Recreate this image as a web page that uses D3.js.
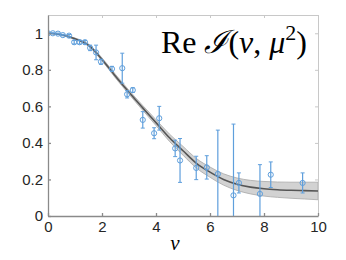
<!DOCTYPE html>
<meta charset="utf-8">
<script src="https://d3js.org/d3.v7.min.js"></script>
<style>
  body { margin: 0; background: #fff; }
  text { font-family: "Liberation Sans", Arial, sans-serif; }
</style>
<div id="my_dataviz"></div>
<script>

// data points (nu, value, error)
var nu   = [0, 0.18, 0.37, 0.55, 0.78, 0.97, 1.17, 1.37, 1.56, 1.78, 1.96, 2.37, 2.75, 2.93, 3.14, 3.51, 3.93, 4.12, 4.71, 4.89, 5.49, 5.88, 6.29, 6.87, 7.07, 7.85, 8.25, 9.43];
var vals = [1.0, 1.0, 0.998, 0.99, 0.987, 0.951, 0.951, 0.951, 0.92, 0.895, 0.844, 0.805, 0.809, 0.666, 0.689, 0.526, 0.453, 0.535, 0.37, 0.304, 0.263, 0.266, 0.23, 0.113, 0.181, 0.121, 0.226, 0.181];
var errs = [0.003, 0.003, 0.003, 0.004, 0.006, 0.01, 0.01, 0.01, 0.015, 0.04, 0.014, 0.014, 0.082, 0.02, 0.013, 0.045, 0.03, 0.065, 0.045, 0.12, 0.064, 0.064, 0.24, 0.39, 0.055, 0.16, 0.07, 0.055];

// fit curve and band
var curveNu  = [0, 0.5, 1, 1.5, 2, 2.5, 3, 3.5, 4, 4.5, 5, 5.5, 6, 6.5, 7, 7.5, 8, 8.5, 9, 9.5, 10];
var curveVal = [1.0, 0.992, 0.97, 0.935, 0.857, 0.765, 0.677, 0.593, 0.511, 0.428, 0.357, 0.288, 0.24, 0.2, 0.174, 0.158, 0.149, 0.144, 0.141, 0.139, 0.137];
var bandHalf = [0, 0.002, 0.004, 0.006, 0.008, 0.01, 0.011, 0.013, 0.016, 0.02, 0.024, 0.026, 0.028, 0.031, 0.034, 0.037, 0.04, 0.042, 0.044, 0.046, 0.048];

var xTicks = [0, 2, 4, 6, 8, 10];
var yTicks = [0, 0.2, 0.4, 0.6, 0.8, 1];

var margin = {top: 15, right: 28, bottom: 44, left: 48},
    width = 346 - margin.left - margin.right,
    height = 260 - margin.top - margin.bottom;

var svg = d3.select("#my_dataviz")
  .append("svg")
    .attr("width", 346)
    .attr("height", 260)
  .append("g")
    .attr("transform", "translate(" + margin.left + "," + margin.top + ")");

var x = d3.scaleLinear().domain([0, 10]).range([0, width]);
var y = d3.scaleLinear().domain([0, 1.1]).range([height, 0]);

svg.append("clipPath").attr("id", "clip")
  .append("rect").attr("width", width).attr("height", height);

var plot = svg.append("g").attr("clip-path", "url(#clip)");

// band
var band = curveNu.map(function(d, i) { return {nu: d, lo: curveVal[i] - bandHalf[i], hi: curveVal[i] + bandHalf[i], v: curveVal[i]}; });
plot.append("path")
  .datum(band)
  .attr("fill", "#d2d2d2")
  .attr("stroke", "#a8a8a8")
  .attr("stroke-width", 0.8)
  .attr("d", d3.area()
    .curve(d3.curveMonotoneX)
    .x(function(d) { return x(d.nu); })
    .y0(function(d) { return y(d.lo); })
    .y1(function(d) { return y(d.hi); }));

plot.append("path")
  .datum(band)
  .attr("fill", "none")
  .attr("stroke", "#555")
  .attr("stroke-width", 1.6)
  .attr("d", d3.line()
    .curve(d3.curveMonotoneX)
    .x(function(d) { return x(d.nu); })
    .y(function(d) { return y(d.v); }));

// error bars
var pts = nu.map(function(d, i) { return {nu: d, v: vals[i], e: errs[i]}; });
var blue = "#5f9fdc";
var eb = plot.selectAll(".eb").data(pts).enter().append("g");
eb.append("line")
  .attr("x1", function(d) { return x(d.nu); })
  .attr("x2", function(d) { return x(d.nu); })
  .attr("y1", function(d) { return y(d.v - d.e); })
  .attr("y2", function(d) { return y(d.v + d.e); })
  .attr("stroke", blue).attr("stroke-width", 1.2);
eb.append("line")
  .attr("x1", function(d) { return x(d.nu) - 2; })
  .attr("x2", function(d) { return x(d.nu) + 2; })
  .attr("y1", function(d) { return y(d.v + d.e); })
  .attr("y2", function(d) { return y(d.v + d.e); })
  .attr("stroke", blue).attr("stroke-width", 1);
eb.append("line")
  .attr("x1", function(d) { return x(d.nu) - 2; })
  .attr("x2", function(d) { return x(d.nu) + 2; })
  .attr("y1", function(d) { return y(d.v - d.e); })
  .attr("y2", function(d) { return y(d.v - d.e); })
  .attr("stroke", blue).attr("stroke-width", 1);
eb.append("circle")
  .attr("cx", function(d) { return x(d.nu); })
  .attr("cy", function(d) { return y(d.v); })
  .attr("r", 2.6)
  .attr("fill", "none")
  .attr("stroke", blue).attr("stroke-width", 1);

// box (top and right)
svg.append("g")
  .call(d3.axisTop(x).tickValues(xTicks).tickSizeInner(-3).tickSizeOuter(0).tickFormat(""))
  .call(function(g) { g.selectAll("line,path").attr("stroke", "#c8c8c8"); });
svg.append("g")
  .attr("transform", "translate(" + width + ",0)")
  .call(d3.axisRight(y).tickValues(yTicks).tickSizeInner(-3).tickSizeOuter(0).tickFormat(""))
  .call(function(g) { g.selectAll("line,path").attr("stroke", "#c8c8c8"); });

// X axis
svg.append("g")
  .attr("transform", "translate(0," + height + ")")
  .call(d3.axisBottom(x).tickValues(xTicks).tickSizeInner(-3).tickSizeOuter(0).tickPadding(5))
  .call(function(g) {
    g.selectAll("line,path").attr("stroke", "#8a8a8a").attr("stroke-width", 1.3);
    g.selectAll("text").attr("font-size", 15).attr("fill", "#262626")
      .attr("font-family", "'Liberation Sans', Arial, sans-serif");
  });

// Y axis
svg.append("g")
  .call(d3.axisLeft(y).tickValues(yTicks).tickSizeInner(-3).tickSizeOuter(0).tickPadding(5)
    .tickFormat(function(d) { return d === 0 || d === 1 ? d : d3.format(".1f")(d); }))
  .call(function(g) {
    g.selectAll("line,path").attr("stroke", "#8a8a8a").attr("stroke-width", 1.3);
    g.selectAll("text").attr("font-size", 15).attr("fill", "#262626")
      .attr("font-family", "'Liberation Sans', Arial, sans-serif");
  });

// x label
svg.append("text")
  .attr("x", x(4.7))
  .attr("y", height + 34)
  .attr("text-anchor", "middle")
  .style("font-family", "'Liberation Serif', 'DejaVu Serif', serif")
  .style("font-style", "italic")
  .style("font-size", "21px")
  .text("ν");

// title
var t = svg.append("text")
  .attr("x", width - 11)
  .attr("y", 38)
  .attr("text-anchor", "end")
  .style("font-family", "'Liberation Serif', 'DejaVu Serif', serif")
  .style("font-size", "32px")
  .attr("fill", "#000");
t.append("tspan").text("Re ");
t.append("tspan").style("font-style", "italic").text("ℐ");
t.append("tspan").text("(");
t.append("tspan").style("font-style", "italic").text("ν");
t.append("tspan").text(", ");
t.append("tspan").style("font-style", "italic").text("μ");
t.append("tspan").attr("dy", -13).style("font-size", "22px").text("2");
t.append("tspan").attr("dy", 13).text(")");

</script>
